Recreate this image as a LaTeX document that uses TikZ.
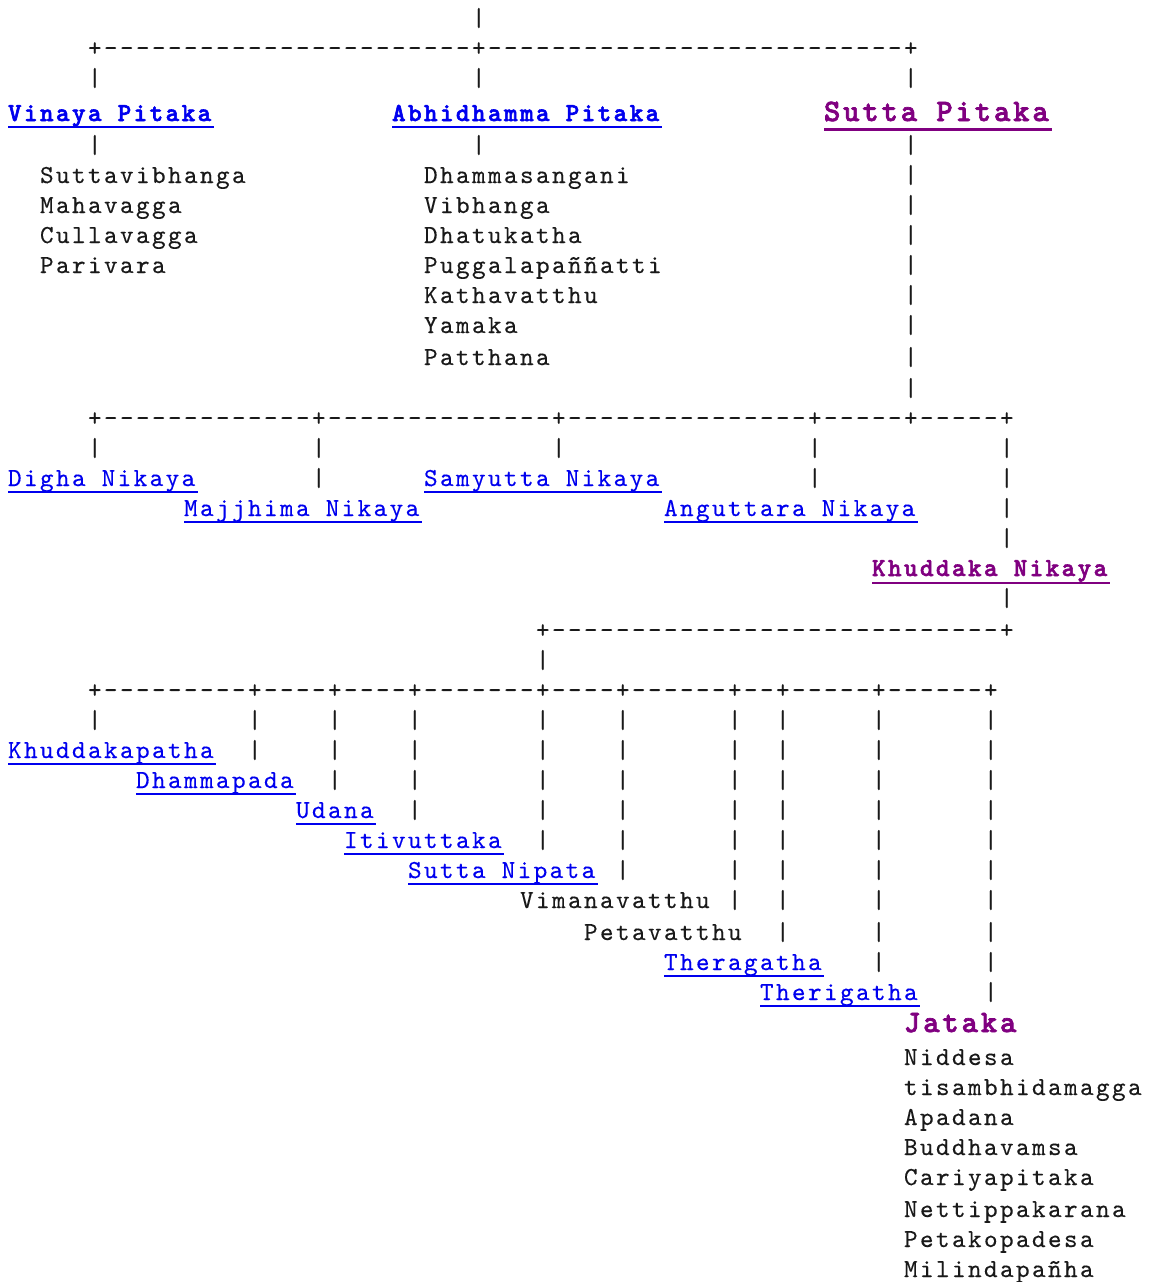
\documentclass[tikz,border=0pt]{standalone}
\usepackage{fontspec}
\setmonofont{lmmono10-regular.otf}[LetterSpace=9.04, FakeBold=0.25,
  BoldFont=lmmonolt10-bold.otf, BoldFeatures={FakeBold=2.2}]
\usetikzlibrary{calc}

\definecolor{linkblue}{RGB}{0,0,238}
\definecolor{seenpurple}{RGB}{128,0,128}

\tikzset{
  mono/.style={font=\fontsize{13}{15}\selectfont\ttfamily, anchor=base west,
    inner sep=0pt, outer sep=0pt, text=black!90},
  link/.style={mono, text=linkblue},
  boldlink/.style={link, font=\fontsize{13}{15}\selectfont\ttfamily\bfseries},
  seen/.style={mono, text=seenpurple, font=\fontsize{13}{15}\selectfont\ttfamily\bfseries},
  bigseen/.style={seen, font=\fontsize{15.6}{18}\selectfont\ttfamily\bfseries},
  uline/.style={line width=1pt, linkblue},
  seenline/.style={line width=1pt, seenpurple},
}
\newcommand\dashes[1]{\foreach\i in {1,...,#1}{-}}

\begin{document}
\begin{tikzpicture}[x=0.5pt, y=-0.5pt]
  \useasboundingbox (0,0) rectangle (1149,1282);

  % Junction bars
  \node[mono] (bar1) at ({8+16*5},56) {+\dashes{23}+\dashes{26}+};
  \node[mono] (bar2) at ({8+16*5},426) {+\dashes{13}+\dashes{14}+\dashes{15}+\dashes{5}+\dashes{5}+};
  \node[mono] (bar3) at ({8+16*33},638) {+\dashes{28}+};
  \node[mono] (bar4) at ({8+16*5},698) {+\dashes{9}+\dashes{4}+\dashes{4}+\dashes{7}+\dashes{4}+\dashes{6}+\dashes{2}+\dashes{5}+\dashes{6}+};

  % Vertical strokes, one row at a time
  \foreach \y/\cols in {26/{29}, 86/{5,29,56}, 153/{5,29,56},
      183/{56}, 213/{56}, 243/{56}, 273/{56}, 303/{56}, 333/{56}, 365/{56}, 396/{56},
      456/{5,19,34,50,62}, 486/{19,50,62}, 516/{62}, 546/{62}, 606/{62},
      668/{33},
      728/{5,15,20,25,33,38,45,48,54,61}, 758/{15,20,25,33,38,45,48,54,61},
      788/{20,25,33,38,45,48,54,61}, 818/{25,33,38,45,48,54,61},
      848/{33,38,45,48,54,61}, 878/{38,45,48,54,61}, 908/{45,48,54,61},
      940/{48,54,61}, 970/{54,61}, 1000/{61}}
    \foreach \c in \cols
      \node[mono] (p\y-\c) at ({8+16*\c},\y) {|};

  % Pitakas
  \node[boldlink] (vinaya) at ({8+16*0},121) {Vinaya Pitaka};
  \node[boldlink] (abhi) at ({8+16*24},121) {Abhidhamma Pitaka};
  \node[bigseen] (sutta) at ({8+16*51},121) {Sutta Pitaka};

  % Vinaya books
  \node[mono] (suttavib) at ({8+16*2},183) {Suttavibhanga};
  \node[mono] (mahav) at ({8+16*2},213) {Mahavagga};
  \node[mono] (cullav) at ({8+16*2},243) {Cullavagga};
  \node[mono] (pariv) at ({8+16*2},273) {Parivara};

  % Abhidhamma books
  \node[mono] (dhsang) at ({8+16*26},183) {Dhammasangani};
  \node[mono] (vibh) at ({8+16*26},213) {Vibhanga};
  \node[mono] (dhatuk) at ({8+16*26},243) {Dhatukatha};
  \node[mono] (pugg) at ({8+16*26},273) {Puggalapaññatti};
  \node[mono] (kathav) at ({8+16*26},303) {Kathavatthu};
  \node[mono] (yamaka) at ({8+16*26},333) {Yamaka};
  \node[mono] (patth) at ({8+16*26},365) {Patthana};

  % Nikayas
  \node[link] (digha) at ({8+16*0},486) {Digha Nikaya};
  \node[link] (samyutta) at ({8+16*26},486) {Samyutta Nikaya};
  \node[link] (majjhima) at ({8+16*11},516) {Majjhima Nikaya};
  \node[link] (anguttara) at ({8+16*41},516) {Anguttara Nikaya};
  \node[seen] (khuddaka) at ({8+16*54},576) {Khuddaka Nikaya};

  % Khuddaka books
  \node[link] (khpatha) at ({8+16*0},758) {Khuddakapatha};
  \node[link] (dhpada) at ({8+16*8},788) {Dhammapada};
  \node[link] (udana) at ({8+16*18},818) {Udana};
  \node[link] (itivut) at ({8+16*21},848) {Itivuttaka};
  \node[link] (snipata) at ({8+16*25},878) {Sutta Nipata};
  \node[mono] (viman) at ({8+16*32},908) {Vimanavatthu};
  \node[mono] (petav) at ({8+16*36},940) {Petavatthu};
  \node[link] (thera) at ({8+16*41},970) {Theragatha};
  \node[link] (theri) at ({8+16*47},1000) {Therigatha};
  \node[bigseen] (jataka) at ({8+16*56},1032) {Jataka};
  \node[mono] (niddesa) at ({8+16*56},1065) {Niddesa};
  \node[mono] (patis) at ({8+16*56},1095) {tisambhidamagga};
  \node[mono] (apadana) at ({8+16*56},1125) {Apadana};
  \node[mono] (buddhav) at ({8+16*56},1155) {Buddhavamsa};
  \node[mono] (cariya) at ({8+16*56},1185) {Cariyapitaka};
  \node[mono] (netti) at ({8+16*56},1217) {Nettippakarana};
  \node[mono] (petak) at ({8+16*56},1247) {Petakopadesa};
  \node[mono] (milinda) at ({8+16*56},1277) {Milindapañha};

  % Link underlines
  \foreach \n in {vinaya,abhi,digha,samyutta,majjhima,anguttara,
      khpatha,dhpada,udana,itivut,snipata,thera,theri}
    \draw[uline] ($(\n.base west)+(0,6)$) -- ($(\n.base east)+(2.4,6)$);
  \draw[seenline, line width=1.5pt] ($(sutta.base west)+(0,8)$) -- ($(sutta.base east)+(2.8,8)$);
  \draw[seenline] ($(khuddaka.base west)+(0,7)$) -- ($(khuddaka.base east)+(2.4,7)$);
\end{tikzpicture}
\end{document}
